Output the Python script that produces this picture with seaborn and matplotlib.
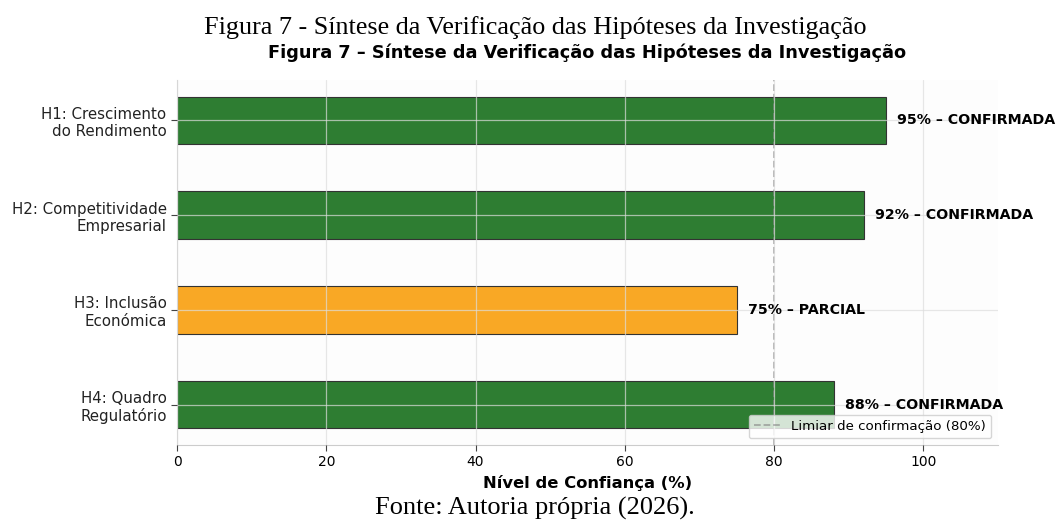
import matplotlib
matplotlib.use('Agg')
import pandas as pd
import matplotlib.pyplot as plt
import seaborn as sns

hipoteses = ['H1: Crescimento\ndo Rendimento', 'H2: Competitividade\nEmpresarial',
             'H3: Inclusão\nEconómica', 'H4: Quadro\nRegulatório']
confianca = [95, 92, 75, 88]
estado = ['CONFIRMADA', 'CONFIRMADA', 'PARCIAL', 'CONFIRMADA']
cores = ['#2e7d32', '#2e7d32', '#f9a825', '#2e7d32']
limiar = 80

df = pd.DataFrame({'Hipótese': hipoteses, 'Confiança': confianca, 'Estado': estado})

sns.set_style('white')
plt.rcParams['font.family'] = ['DejaVu Sans']
plt.rcParams['text.color'] = 'black'
plt.rcParams['axes.labelcolor'] = 'black'
plt.rcParams['xtick.color'] = 'black'
plt.rcParams['ytick.color'] = 'black'

fig = plt.figure(figsize=(10.58, 5.21), dpi=100)
ax = fig.add_axes([0.1673, 0.1459, 0.776, 0.7006])
ax.set_facecolor('#fdfdfd')

sns.barplot(data=df, y='Hipótese', x='Confiança', hue='Hipótese', palette=cores,
            saturation=1, legend=False, width=0.5, edgecolor='#333333',
            linewidth=0.8, ax=ax)

ax.axvline(limiar, color='gray', ls='--', lw=1.3, alpha=0.6,
           label='Limiar de confirmação (80%)')

for i, (v, e) in enumerate(zip(confianca, estado)):
    ax.text(v + 1.5, i, f'{v}% – {e}', va='center', ha='left',
            fontsize=10.2, fontweight='bold', color='black')

ax.set_xlim(0, 110)
ax.set_ylim(3.425, -0.425)
ax.set_xticks([0, 20, 40, 60, 80, 100])
ax.set_axisbelow(False)
ax.grid(True, color='#dddddd', lw=0.9, alpha=0.7)
sns.despine(ax=ax)
for s in ['left', 'bottom']:
    ax.spines[s].set_color('#cccccc')
ax.tick_params(axis='both', left=True, bottom=True, length=4, color='#444444')
ax.tick_params(axis='x', labelsize=10)
ax.tick_params(axis='y', labelsize=10.8, labelcolor='#222222')
ax.set_ylabel('')
ax.set_xlabel('Nível de Confiança (%)', fontsize=11.8, fontweight='bold', labelpad=4)
ax.set_title('Figura 7 – Síntese da Verificação das Hipóteses da Investigação',
             fontsize=12.8, fontweight='bold', pad=16)
ax.legend(loc='lower right', fontsize=9.6, framealpha=0.8)

fig.text(0.506, 0.948, 'Figura 7 - Síntese da Verificação das Hipóteses da Investigação',
         family='Liberation Serif', fontsize=18.8, ha='center', va='center')
fig.text(0.506, 0.025, 'Fonte: Autoria própria (2026).',
         family='Liberation Serif', fontsize=19, ha='center', va='center')

fig.savefig('out.png', dpi=100, facecolor='white')
